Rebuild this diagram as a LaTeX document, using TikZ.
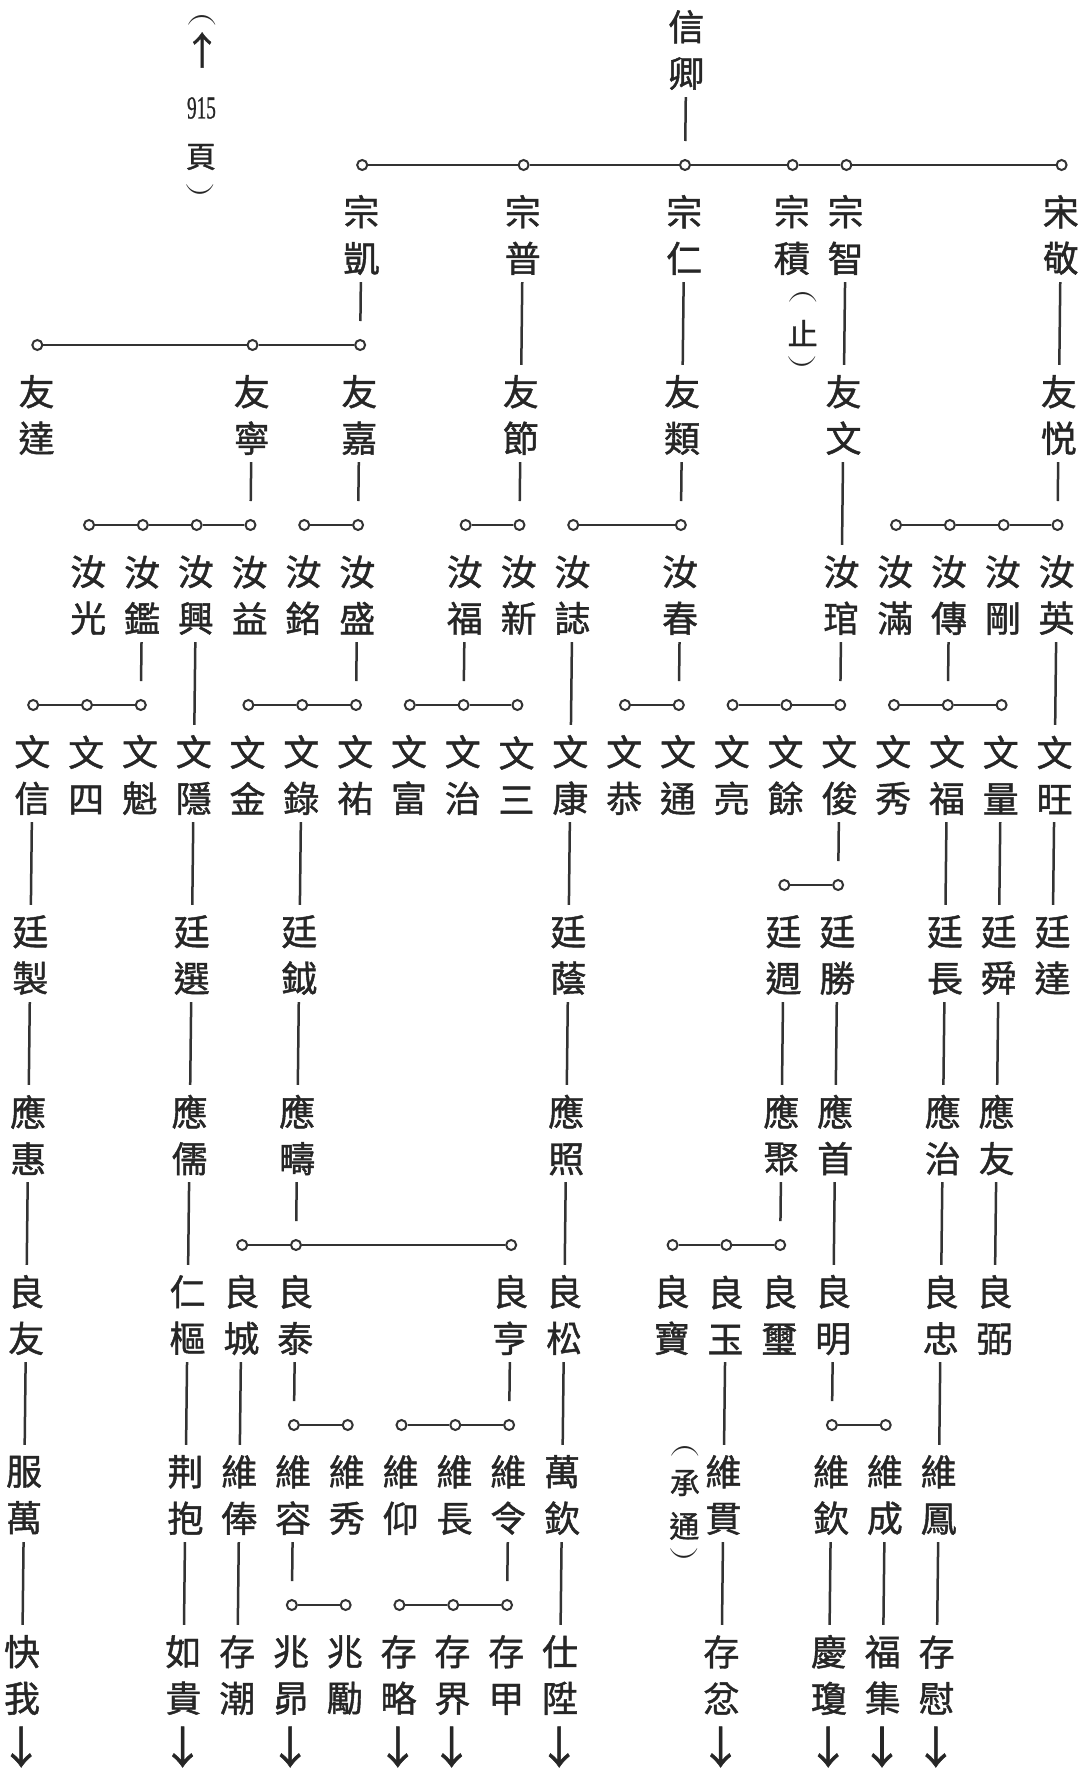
\documentclass[tikz,border=0pt]{standalone}
\usepackage{fontspec}
\newfontfamily\cjk[FakeBold=1.2]{Noto Sans CJK TC}
\newfontfamily\dgf[FakeBold=1]{Liberation Serif}
\definecolor{ink}{HTML}{262626}
\definecolor{lc}{HTML}{333333}
\tikzset{
  nm/.style={font=\cjk\fontsize{36}{46.5}\selectfont, text=ink, align=center, inner sep=0pt, minimum height=82pt, minimum width=36pt},
  an/.style={font=\cjk\fontsize{30}{30}\selectfont, text=ink, inner sep=0pt},
  pa/.style={font=\fontsize{30}{30}\selectfont, text=ink, inner sep=0pt, rotate=-90},
  dg/.style={font=\dgf\fontsize{32}{32}\selectfont, text=ink, inner sep=0pt},
  ar/.style={font=\cjk\fontsize{44}{44}\selectfont, text=ink, inner sep=0pt},
  art/.style={font=\cjk\fontsize{38}{38}\selectfont, text=ink, inner sep=0pt},
  ln/.style={draw=lc, line width=2.5pt},
  dn/.style={ln, shorten <=6pt, shorten >=9pt},
  tb/.style={ln, shorten <=6pt, shorten >=18pt},
  cc/.style={circle, draw=lc, line width=2pt, fill=white, inner sep=0pt, minimum size=10pt},
}
\newcommand\PN[4]{\pgfmathsetmacro\xx{41.3+53.8*#2-0.0115*#3}\node[nm] (#1) at (\xx,#3) {#4};}
\newcommand\PC[3]{\pgfmathsetmacro\xx{41.3+53.8*#2-0.0115*#3}\node[cc] (#1) at (\xx,#3) {};}
\newcommand\PA[6]{\pgfmathsetmacro\xx{41.3+53.8*#2-0.0115*#3+#4}\node[#5] (#1) at (\xx,#3) {#6};}
\newcommand\LP{\scalebox{1.5}[0.9]{(}}
\newcommand\RP{\scalebox{1.5}[0.9]{)}}
\begin{document}
\begin{tikzpicture}[x=1pt,y=-1pt]
\fill[white] (0,0) rectangle (1079,1774);
\useasboundingbox (0,0) rectangle (1079,1774);

% top note
\PA{t1}{3}{19}{0}{pa}{\LP}
\PA{t2}{3}{50}{0}{art}{↑}
\PA{t3}{3}{108}{0}{dg}{\scalebox{0.6}[1]{915}}
\PA{t4}{3}{157}{0}{an}{頁}
\PA{t5}{3}{190}{0}{pa}{\RP}

% generation 0
\PN{g0c12}{12}{50}{信\\卿}
\PC{k1c6}{6}{165}\PC{k1c9}{9}{165}\PC{k1c12}{12}{165}\PC{k1c14}{14}{165}\PC{k1c15}{15}{165}\PC{k1c19}{19}{165}
\draw[ln] (k1c6)--(k1c9)--(k1c12)--(k1c14)--(k1c15)--(k1c19);
\draw[tb] (g0c12)--(k1c12);

% generation 1
\PN{g1c6}{6}{235}{宗\\凱}
\PN{g1c9}{9}{235}{宗\\普}
\PN{g1c12}{12}{235}{宗\\仁}
\PN{g1c14}{14}{235}{宗\\積}
\PN{g1c15}{15}{235}{宗\\智}
\PN{g1c19}{19}{235}{宋\\敬}
\PA{p1a}{14}{296}{12}{pa}{\LP}
\PA{p1b}{14}{333}{12}{an}{止}
\PA{p1c}{14}{362}{12}{pa}{\RP}

\PC{k2c0}{0}{345}\PC{k2c4}{4}{345}\PC{k2c6}{6}{345}
\draw[ln] (k2c0)--(k2c4)--(k2c6);
\draw[tb] (g1c6)--(k2c6);

% generation 2
\PN{g2c0}{0}{415}{友\\達}
\PN{g2c4}{4}{415}{友\\寧}
\PN{g2c6}{6}{415}{友\\嘉}
\PN{g2c9}{9}{415}{友\\節}
\PN{g2c12}{12}{415}{友\\類}
\PN{g2c15}{15}{415}{友\\文}
\PN{g2c19}{19}{415}{友\\悦}
\draw[dn] (g1c9)--(g2c9);
\draw[dn] (g1c12)--(g2c12);
\draw[dn] (g1c15)--(g2c15);
\draw[dn] (g1c19)--(g2c19);

\PC{k3c1}{1}{525}\PC{k3c2}{2}{525}\PC{k3c3}{3}{525}\PC{k3c4}{4}{525}
\PC{k3c5}{5}{525}\PC{k3c6}{6}{525}
\PC{k3c8}{8}{525}\PC{k3c9}{9}{525}
\PC{k3c10}{10}{525}\PC{k3c12}{12}{525}
\PC{k3c16}{16}{525}\PC{k3c17}{17}{525}\PC{k3c18}{18}{525}\PC{k3c19}{19}{525}
\draw[ln] (k3c1)--(k3c2)--(k3c3)--(k3c4);
\draw[ln] (k3c5)--(k3c6);
\draw[ln] (k3c8)--(k3c9);
\draw[ln] (k3c10)--(k3c12);
\draw[ln] (k3c16)--(k3c17)--(k3c18)--(k3c19);
\draw[tb] (g2c4)--(k3c4);
\draw[tb] (g2c6)--(k3c6);
\draw[tb] (g2c9)--(k3c9);
\draw[tb] (g2c12)--(k3c12);
\draw[tb] (g2c19)--(k3c19);

% generation 3
\PN{g3c1}{1}{595}{汝\\光}
\PN{g3c2}{2}{595}{汝\\鑑}
\PN{g3c3}{3}{595}{汝\\興}
\PN{g3c4}{4}{595}{汝\\益}
\PN{g3c5}{5}{595}{汝\\銘}
\PN{g3c6}{6}{595}{汝\\盛}
\PN{g3c8}{8}{595}{汝\\福}
\PN{g3c9}{9}{595}{汝\\新}
\PN{g3c10}{10}{595}{汝\\誌}
\PN{g3c12}{12}{595}{汝\\春}
\PN{g3c15}{15}{595}{汝\\琯}
\PN{g3c16}{16}{595}{汝\\滿}
\PN{g3c17}{17}{595}{汝\\傳}
\PN{g3c18}{18}{595}{汝\\剛}
\PN{g3c19}{19}{595}{汝\\英}
\draw[dn] (g2c15)--(g3c15);

\PC{k4c0}{0}{705}\PC{k4c1}{1}{705}\PC{k4c2}{2}{705}
\PC{k4c4}{4}{705}\PC{k4c5}{5}{705}\PC{k4c6}{6}{705}
\PC{k4c7}{7}{705}\PC{k4c8}{8}{705}\PC{k4c9}{9}{705}
\PC{k4c11}{11}{705}\PC{k4c12}{12}{705}
\PC{k4c13}{13}{705}\PC{k4c14}{14}{705}\PC{k4c15}{15}{705}
\PC{k4c16}{16}{705}\PC{k4c17}{17}{705}\PC{k4c18}{18}{705}
\draw[ln] (k4c0)--(k4c1)--(k4c2);
\draw[ln] (k4c4)--(k4c5)--(k4c6);
\draw[ln] (k4c7)--(k4c8)--(k4c9);
\draw[ln] (k4c11)--(k4c12);
\draw[ln] (k4c13)--(k4c14)--(k4c15);
\draw[ln] (k4c16)--(k4c17)--(k4c18);
\draw[tb] (g3c2)--(k4c2);
\draw[tb] (g3c6)--(k4c6);
\draw[tb] (g3c8)--(k4c8);
\draw[tb] (g3c12)--(k4c12);
\draw[tb] (g3c15)--(k4c15);
\draw[tb] (g3c17)--(k4c17);

% generation 4
\PN{g4c0}{0}{775}{文\\信}
\PN{g4c1}{1}{775}{文\\四}
\PN{g4c2}{2}{775}{文\\魁}
\PN{g4c3}{3}{775}{文\\隱}
\PN{g4c4}{4}{775}{文\\金}
\PN{g4c5}{5}{775}{文\\錄}
\PN{g4c6}{6}{775}{文\\祐}
\PN{g4c7}{7}{775}{文\\富}
\PN{g4c8}{8}{775}{文\\治}
\PN{g4c9}{9}{775}{文\\三}
\PN{g4c10}{10}{775}{文\\康}
\PN{g4c11}{11}{775}{文\\恭}
\PN{g4c12}{12}{775}{文\\通}
\PN{g4c13}{13}{775}{文\\亮}
\PN{g4c14}{14}{775}{文\\餘}
\PN{g4c15}{15}{775}{文\\俊}
\PN{g4c16}{16}{775}{文\\秀}
\PN{g4c17}{17}{775}{文\\福}
\PN{g4c18}{18}{775}{文\\量}
\PN{g4c19}{19}{775}{文\\旺}
\draw[dn] (g3c3)--(g4c3);
\draw[dn] (g3c10)--(g4c10);
\draw[dn] (g3c19)--(g4c19);

\PC{k5c14}{14}{885}\PC{k5c15}{15}{885}
\draw[ln] (k5c14)--(k5c15);
\draw[tb] (g4c15)--(k5c15);

% generation 5
\PN{g5c0}{0}{955}{廷\\製}
\PN{g5c3}{3}{955}{廷\\選}
\PN{g5c5}{5}{955}{廷\\鉞}
\PN{g5c10}{10}{955}{廷\\蔭}
\PN{g5c14}{14}{955}{廷\\週}
\PN{g5c15}{15}{955}{廷\\勝}
\PN{g5c17}{17}{955}{廷\\長}
\PN{g5c18}{18}{955}{廷\\舜}
\PN{g5c19}{19}{955}{廷\\達}
\draw[dn] (g4c0)--(g5c0);
\draw[dn] (g4c3)--(g5c3);
\draw[dn] (g4c5)--(g5c5);
\draw[dn] (g4c10)--(g5c10);
\draw[dn] (g4c17)--(g5c17);
\draw[dn] (g4c18)--(g5c18);
\draw[dn] (g4c19)--(g5c19);

% generation 6
\PN{g6c0}{0}{1135}{應\\惠}
\PN{g6c3}{3}{1135}{應\\儒}
\PN{g6c5}{5}{1135}{應\\疇}
\PN{g6c10}{10}{1135}{應\\照}
\PN{g6c14}{14}{1135}{應\\聚}
\PN{g6c15}{15}{1135}{應\\首}
\PN{g6c17}{17}{1135}{應\\治}
\PN{g6c18}{18}{1135}{應\\友}
\draw[dn] (g5c0)--(g6c0);
\draw[dn] (g5c3)--(g6c3);
\draw[dn] (g5c5)--(g6c5);
\draw[dn] (g5c10)--(g6c10);
\draw[dn] (g5c14)--(g6c14);
\draw[dn] (g5c15)--(g6c15);
\draw[dn] (g5c17)--(g6c17);
\draw[dn] (g5c18)--(g6c18);

\PC{k7c4}{4}{1245}\PC{k7c5}{5}{1245}\PC{k7c9}{9}{1245}
\PC{k7c12}{12}{1245}\PC{k7c13}{13}{1245}\PC{k7c14}{14}{1245}
\draw[ln] (k7c4)--(k7c5)--(k7c9);
\draw[ln] (k7c12)--(k7c13)--(k7c14);
\draw[tb] (g6c5)--(k7c5);
\draw[tb] (g6c14)--(k7c14);

% generation 7
\PN{g7c0}{0}{1315}{良\\友}
\PN{g7c3}{3}{1315}{仁\\樞}
\PN{g7c4}{4}{1315}{良\\城}
\PN{g7c5}{5}{1315}{良\\泰}
\PN{g7c9}{9}{1315}{良\\亨}
\PN{g7c10}{10}{1315}{良\\松}
\PN{g7c12}{12}{1315}{良\\寶}
\PN{g7c13}{13}{1315}{良\\玉}
\PN{g7c14}{14}{1315}{良\\璽}
\PN{g7c15}{15}{1315}{良\\明}
\PN{g7c17}{17}{1315}{良\\忠}
\PN{g7c18}{18}{1315}{良\\弼}
\draw[dn] (g6c0)--(g7c0);
\draw[dn] (g6c3)--(g7c3);
\draw[dn] (g6c10)--(g7c10);
\draw[dn] (g6c15)--(g7c15);
\draw[dn] (g6c17)--(g7c17);
\draw[dn] (g6c18)--(g7c18);

\PC{k8c5}{5}{1425}\PC{k8c6}{6}{1425}
\PC{k8c7}{7}{1425}\PC{k8c8}{8}{1425}\PC{k8c9}{9}{1425}
\PC{k8c15}{15}{1425}\PC{k8c16}{16}{1425}
\draw[ln] (k8c5)--(k8c6);
\draw[ln] (k8c7)--(k8c8)--(k8c9);
\draw[ln] (k8c15)--(k8c16);
\draw[tb] (g7c5)--(k8c5);
\draw[tb] (g7c9)--(k8c9);
\draw[tb] (g7c15)--(k8c15);

\PA{p2a}{12}{1450}{15}{pa}{\LP}
\PA{p2b}{12}{1483}{15}{an}{承}
\PA{p2c}{12}{1526}{15}{an}{通}
\PA{p2d}{12}{1554}{15}{pa}{\RP}

% generation 8
\PN{g8c0}{0}{1495}{服\\萬}
\PN{g8c3}{3}{1495}{荆\\抱}
\PN{g8c4}{4}{1495}{維\\俸}
\PN{g8c5}{5}{1495}{維\\容}
\PN{g8c6}{6}{1495}{維\\秀}
\PN{g8c7}{7}{1495}{維\\仰}
\PN{g8c8}{8}{1495}{維\\長}
\PN{g8c9}{9}{1495}{維\\令}
\PN{g8c10}{10}{1495}{萬\\欽}
\PN{g8c13}{13}{1495}{維\\貫}
\PN{g8c15}{15}{1495}{維\\欽}
\PN{g8c16}{16}{1495}{維\\成}
\PN{g8c17}{17}{1495}{維\\鳳}
\draw[dn] (g7c0)--(g8c0);
\draw[dn] (g7c3)--(g8c3);
\draw[dn] (g7c4)--(g8c4);
\draw[dn] (g7c10)--(g8c10);
\draw[dn] (g7c13)--(g8c13);
\draw[dn] (g7c17)--(g8c17);

\PC{k9c5}{5}{1605}\PC{k9c6}{6}{1605}
\PC{k9c7}{7}{1605}\PC{k9c8}{8}{1605}\PC{k9c9}{9}{1605}
\draw[ln] (k9c5)--(k9c6);
\draw[ln] (k9c7)--(k9c8)--(k9c9);
\draw[tb] (g8c5)--(k9c5);
\draw[tb] (g8c9)--(k9c9);

% generation 9
\PN{g9c0}{0}{1675}{快\\我}
\PN{g9c3}{3}{1675}{如\\貴}
\PN{g9c4}{4}{1675}{存\\潮}
\PN{g9c5}{5}{1675}{兆\\昴}
\PN{g9c6}{6}{1675}{兆\\勵}
\PN{g9c7}{7}{1675}{存\\略}
\PN{g9c8}{8}{1675}{存\\界}
\PN{g9c9}{9}{1675}{存\\甲}
\PN{g9c10}{10}{1675}{仕\\陞}
\PN{g9c13}{13}{1675}{存\\忿}
\PN{g9c15}{15}{1675}{慶\\瓊}
\PN{g9c16}{16}{1675}{福\\集}
\PN{g9c17}{17}{1675}{存\\慰}
\draw[dn] (g8c0)--(g9c0);
\draw[dn] (g8c3)--(g9c3);
\draw[dn] (g8c4)--(g9c4);
\draw[dn] (g8c10)--(g9c10);
\draw[dn] (g8c13)--(g9c13);
\draw[dn] (g8c15)--(g9c15);
\draw[dn] (g8c16)--(g9c16);
\draw[dn] (g8c17)--(g9c17);

% continuation arrows
\PA{d0}{0}{1747}{0}{ar}{↓}
\PA{d3}{3}{1747}{0}{ar}{↓}
\PA{d5}{5}{1747}{0}{ar}{↓}
\PA{d7}{7}{1747}{0}{ar}{↓}
\PA{d8}{8}{1747}{0}{ar}{↓}
\PA{d10}{10}{1747}{0}{ar}{↓}
\PA{d13}{13}{1747}{0}{ar}{↓}
\PA{d15}{15}{1747}{0}{ar}{↓}
\PA{d16}{16}{1747}{0}{ar}{↓}
\PA{d17}{17}{1747}{0}{ar}{↓}
\end{tikzpicture}
\end{document}
